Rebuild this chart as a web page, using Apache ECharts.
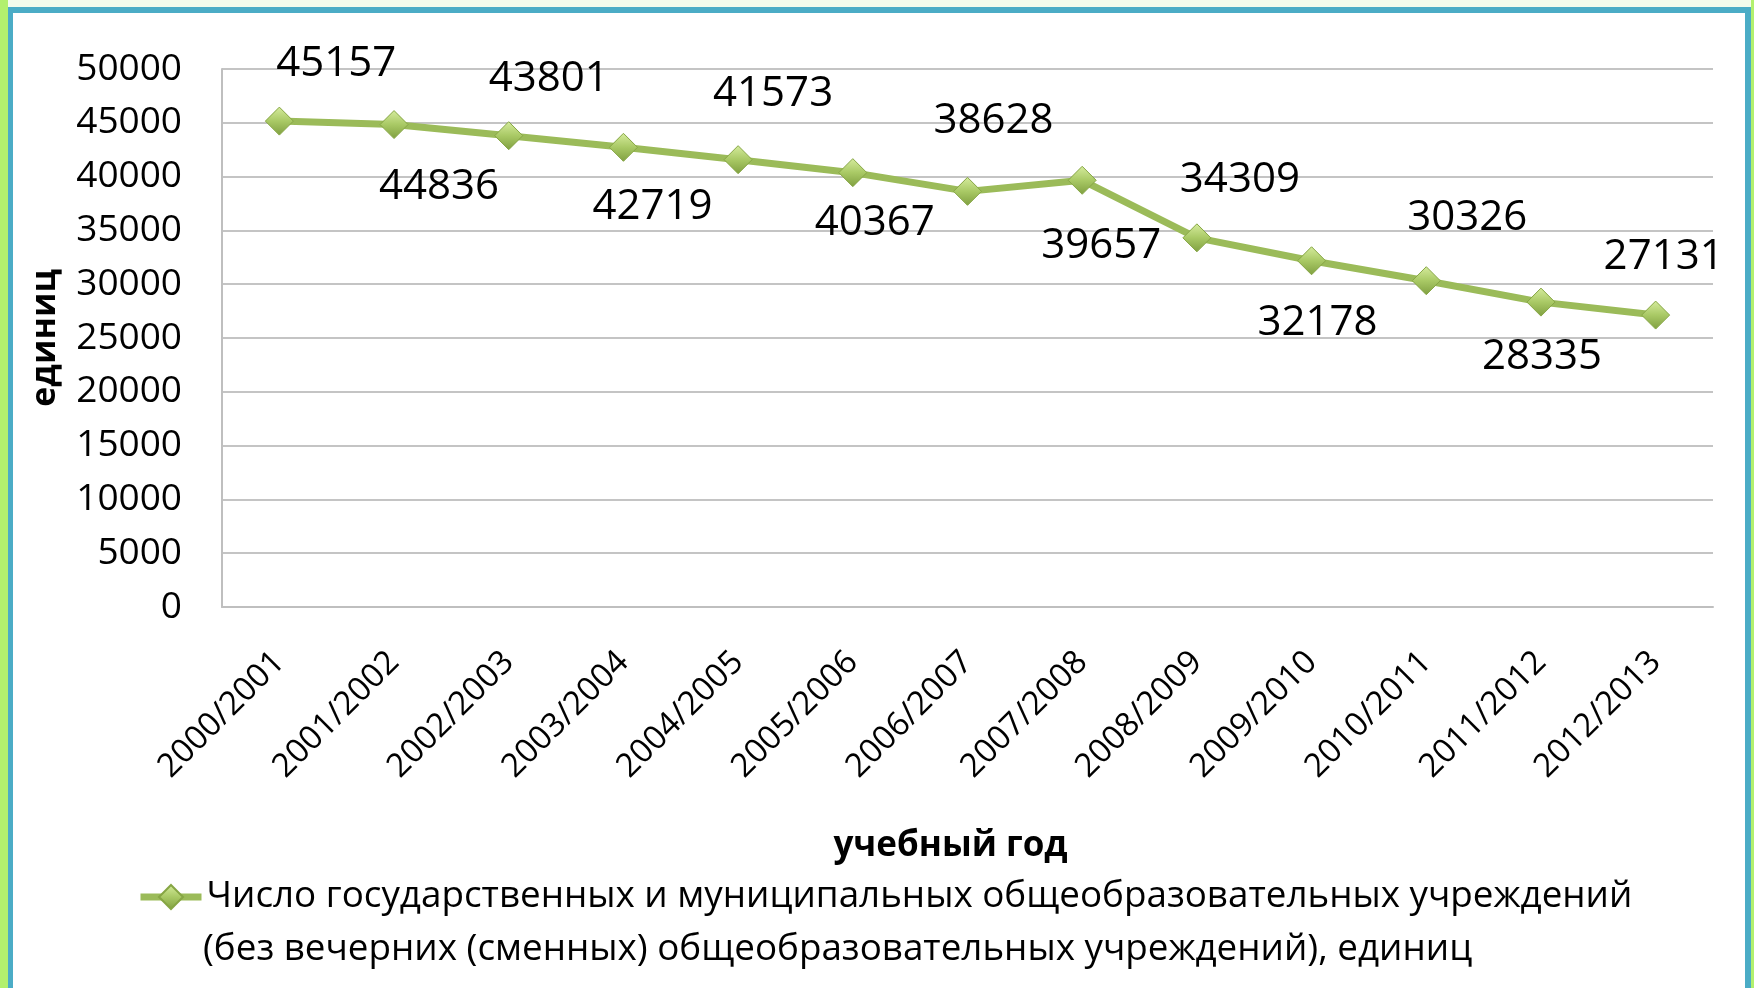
<!DOCTYPE html>
<html>
<head>
    <meta charset="utf-8">
    <title>Общеобразовательные учреждения</title>
    <script src="https://cdn.jsdelivr.net/npm/echarts@6/dist/echarts.min.js"></script>
    <style>
        html, body { margin: 0; padding: 0; background: #f3fbec; }
        #chart { width: 1754px; height: 988px; }
    </style>
</head>
<body>
    <div id="chart"></div>
    <script>
        // school years on the x axis
        var years = ["2000/2001", "2001/2002", "2002/2003", "2003/2004", "2004/2005", "2005/2006",
                     "2006/2007", "2007/2008", "2008/2009", "2009/2010", "2010/2011", "2011/2012", "2012/2013"];
        // number of schools
        var schools = [45157, 44836, 43801, 42719, 41573, 40367, 38628, 39657, 34309, 32178, 30326, 28335, 27131];
        var legendLine1 = "Число государственных и муниципальных общеобразовательных учреждений";
        var legendLine2 = "(без вечерних (сменных) общеобразовательных учреждений), единиц";

        // where each value label sits relative to its point (px), like in the original
        var labelDx = [57, 45, 40, 29, 35, 22, 26, 19, 43, 6, 41, 1, 8];
        var labelDy = [-57, 62, -57, 60, -66, 50, -70, 66, -58, 62, -63, 55, -58];

        var font = "'Open Sans', sans-serif";
        var chart = echarts.init(document.querySelector("#chart"));

        var points = schools.map(function (v, i) {
            return { value: v, label: { offset: [labelDx[i], labelDy[i]] } };
        });

        var option = {
            backgroundColor: '#f3fbec',
            textStyle: { fontFamily: font },
            graphic: [
                { type: 'rect', shape: { x: 0, y: 0, width: 8, height: 988 }, style: { fill: '#b2f06e' }, z: 0 },
                { type: 'rect', shape: { x: 1751, y: 0, width: 3, height: 988 }, style: { fill: '#b2f06e' }, z: 0 },
                { type: 'rect', shape: { x: 10, y: 10, width: 1738, height: 984 },
                  style: { fill: '#ffffff', stroke: '#4bacc6', lineWidth: 6 }, z: -1 },
                // second line of the legend text
                { type: 'text', left: 203, top: 925, z: 10,
                  style: { text: legendLine2, fontSize: 36.8, fontFamily: font, fill: '#000', lineHeight: 50 } }
            ],
            grid: { left: 222, right: 41, top: 69, bottom: 381 },
            legend: {
                left: 137,
                top: 872,
                padding: 0,
                itemWidth: 61,
                itemHeight: 30,
                lineStyle: { width: 7 },
                formatter: function () { return legendLine1; },
                textStyle: { fontSize: 36.8, color: '#000', lineHeight: 50 }
            },
            xAxis: {
                type: 'category',
                data: years,
                name: 'учебный год',
                nameLocation: 'middle',
                nameGap: 222,
                nameTextStyle: { fontSize: 35, fontWeight: 'bold', color: '#000', padding: [0, 34, 0, 0] },
                axisLine: { lineStyle: { color: '#bfbfbf', width: 2 } },
                axisTick: { show: false },
                axisLabel: { rotate: 45, fontSize: 33, color: '#000', margin: 50 }
            },
            yAxis: {
                type: 'value',
                min: 0,
                max: 50000,
                interval: 5000,
                name: 'единиц',
                nameLocation: 'middle',
                nameGap: 160,
                nameTextStyle: { fontSize: 34, fontWeight: 'bold', color: '#000' },
                axisLine: { show: true, lineStyle: { color: '#bfbfbf', width: 2 } },
                axisTick: { show: false },
                axisLabel: { fontSize: 37, color: '#000', margin: 40, formatter: function (v) { return String(v); } },
                splitLine: { lineStyle: { color: '#c4c4c4', width: 2 } }
            },
            series: [
                {
                    name: legendLine1,
                    type: 'line',
                    data: points,
                    symbol: 'diamond',
                    symbolSize: 28,
                    lineStyle: { color: '#9bbb59', width: 7 },
                    itemStyle: {
                        color: new echarts.graphic.LinearGradient(0, 0, 0, 1, [
                            { offset: 0, color: '#d6ec9e' },
                            { offset: 0.5, color: '#a9c965' },
                            { offset: 1, color: '#7f9f40' }
                        ]),
                        borderColor: '#86a644',
                        borderWidth: 1
                    },
                    label: { show: true, position: 'inside', fontSize: 42, color: '#000' },
                    animation: false
                }
            ]
        };
        chart.setOption(option);
    </script>
</body>
</html>
